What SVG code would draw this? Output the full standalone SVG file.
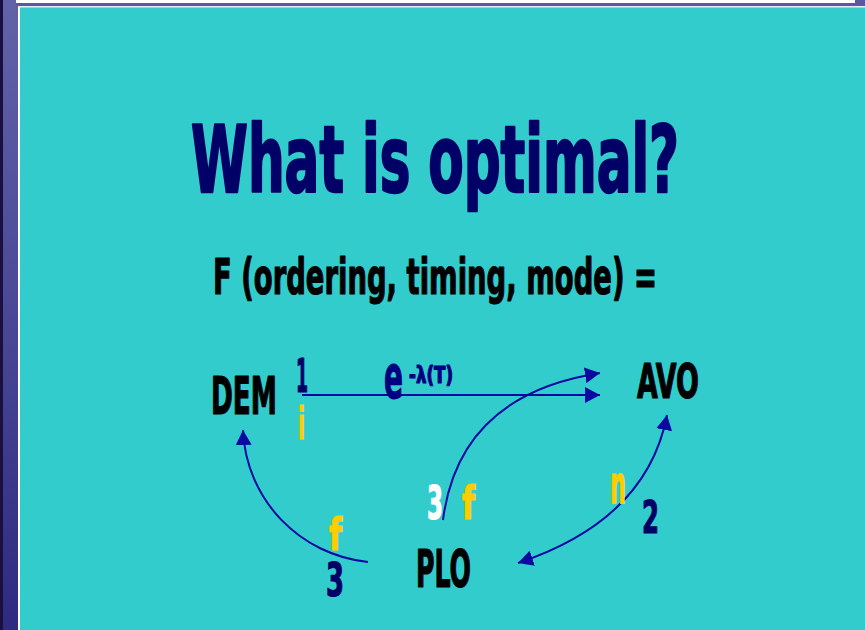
<svg xmlns="http://www.w3.org/2000/svg" width="865" height="630" viewBox="0 0 865 630">
<style>
.t{font-family:"Liberation Sans Narrow","DejaVu Sans Condensed","Liberation Sans",sans-serif;font-weight:bold;stroke-width:1.2;stroke-linejoin:round}
.navy{fill:#000066;stroke:#000066}
.blk{fill:#000000;stroke:#000000}
.gold{fill:#FFCC00;stroke:#FFCC00}
.wht{fill:#FFFFFF;stroke:#FFFFFF}
.dk{fill:#000080;stroke:#000080}
.big{stroke-width:2.4}
.conn{fill:none;stroke:#0A0AA0;stroke-width:2}
</style>
<defs>
<linearGradient id="strip" x1="0" y1="0" x2="0" y2="1">
<stop offset="0" stop-color="#6262A8"/>
<stop offset="0.5" stop-color="#4A4896"/>
<stop offset="1" stop-color="#2E2A80"/>
</linearGradient>
<marker id="ah" markerUnits="userSpaceOnUse" markerWidth="16" markerHeight="16" refX="15" refY="8" orient="auto-start-reverse" viewBox="0 0 16 16">
<path d="M0,0 L15,8 L0,16 z" fill="#0A0AA0"/>
</marker>
</defs>
<g id="background">
<rect x="0" y="0" width="865" height="630" fill="#33CCCC"/>
<rect x="0" y="0" width="18" height="630" fill="url(#strip)"/>
<rect x="0" y="0" width="3" height="630" fill="#1A1040"/>
<rect x="18" y="6" width="2" height="624" fill="#FFFFFF"/>
<rect x="16" y="0" width="839" height="3" fill="#FFFFFF"/>
<rect x="16" y="3" width="849" height="3" fill="#5A58A4"/>
<rect x="855" y="0" width="10" height="6" fill="#5A58A4"/>
<rect x="18" y="6" width="847" height="1.5" fill="#E8ECF4"/>
</g>
<g id="title">
<text class="t navy big" x="191" y="192" font-size="92" textLength="488" lengthAdjust="spacingAndGlyphs">What is optimal?</text>
<text class="t blk" x="213" y="294" font-size="49" textLength="444" lengthAdjust="spacingAndGlyphs">F (ordering, timing, mode) =</text>
</g>
<g id="connectors">
<path class="conn" d="M302,395 L600,395" marker-end="url(#ah)"/>
<path class="conn" d="M443,520 Q459,395 600,373" marker-end="url(#ah)"/>
<path class="conn" d="M368,562 C300,555 246,500 243,430" marker-end="url(#ah)"/>
<path class="conn" d="M518,563 Q647,520 667,415" marker-start="url(#ah)" marker-end="url(#ah)"/>
</g>
<g id="DEM">
<text class="t blk" x="211" y="414" font-size="51" textLength="66" lengthAdjust="spacingAndGlyphs">DEM</text>
</g>
<g id="AVO">
<text class="t blk" x="637" y="398" font-size="48" textLength="62" lengthAdjust="spacingAndGlyphs">AVO</text>
</g>
<g id="PLO">
<text class="t blk" x="416" y="587" font-size="51" textLength="55" lengthAdjust="spacingAndGlyphs">PLO</text>
</g>
<g id="labels">
<text class="t navy" x="296" y="392" font-size="46" textLength="12" lengthAdjust="spacingAndGlyphs">1</text>
<text class="t gold" x="298" y="439" font-size="45" textLength="7" lengthAdjust="spacingAndGlyphs">i</text>
<text class="t dk" x="384" y="398" font-size="60" textLength="19" lengthAdjust="spacingAndGlyphs">e</text>
<text class="t dk" x="409" y="383" font-size="23" textLength="44" lengthAdjust="spacingAndGlyphs">-λ(T)</text>
<text class="t wht" x="427" y="519" font-size="47" textLength="16" lengthAdjust="spacingAndGlyphs">3</text>
<text class="t gold" x="462" y="519" font-size="46" textLength="13" lengthAdjust="spacingAndGlyphs">f</text>
<text class="t gold" x="329" y="550" font-size="45" textLength="13" lengthAdjust="spacingAndGlyphs">f</text>
<text class="t navy" x="326" y="596" font-size="46" textLength="18" lengthAdjust="spacingAndGlyphs">3</text>
<text class="t gold" x="610" y="503" font-size="53" textLength="16" lengthAdjust="spacingAndGlyphs">n</text>
<text class="t navy" x="642" y="533" font-size="44" textLength="17" lengthAdjust="spacingAndGlyphs">2</text>
</g>
</svg>
